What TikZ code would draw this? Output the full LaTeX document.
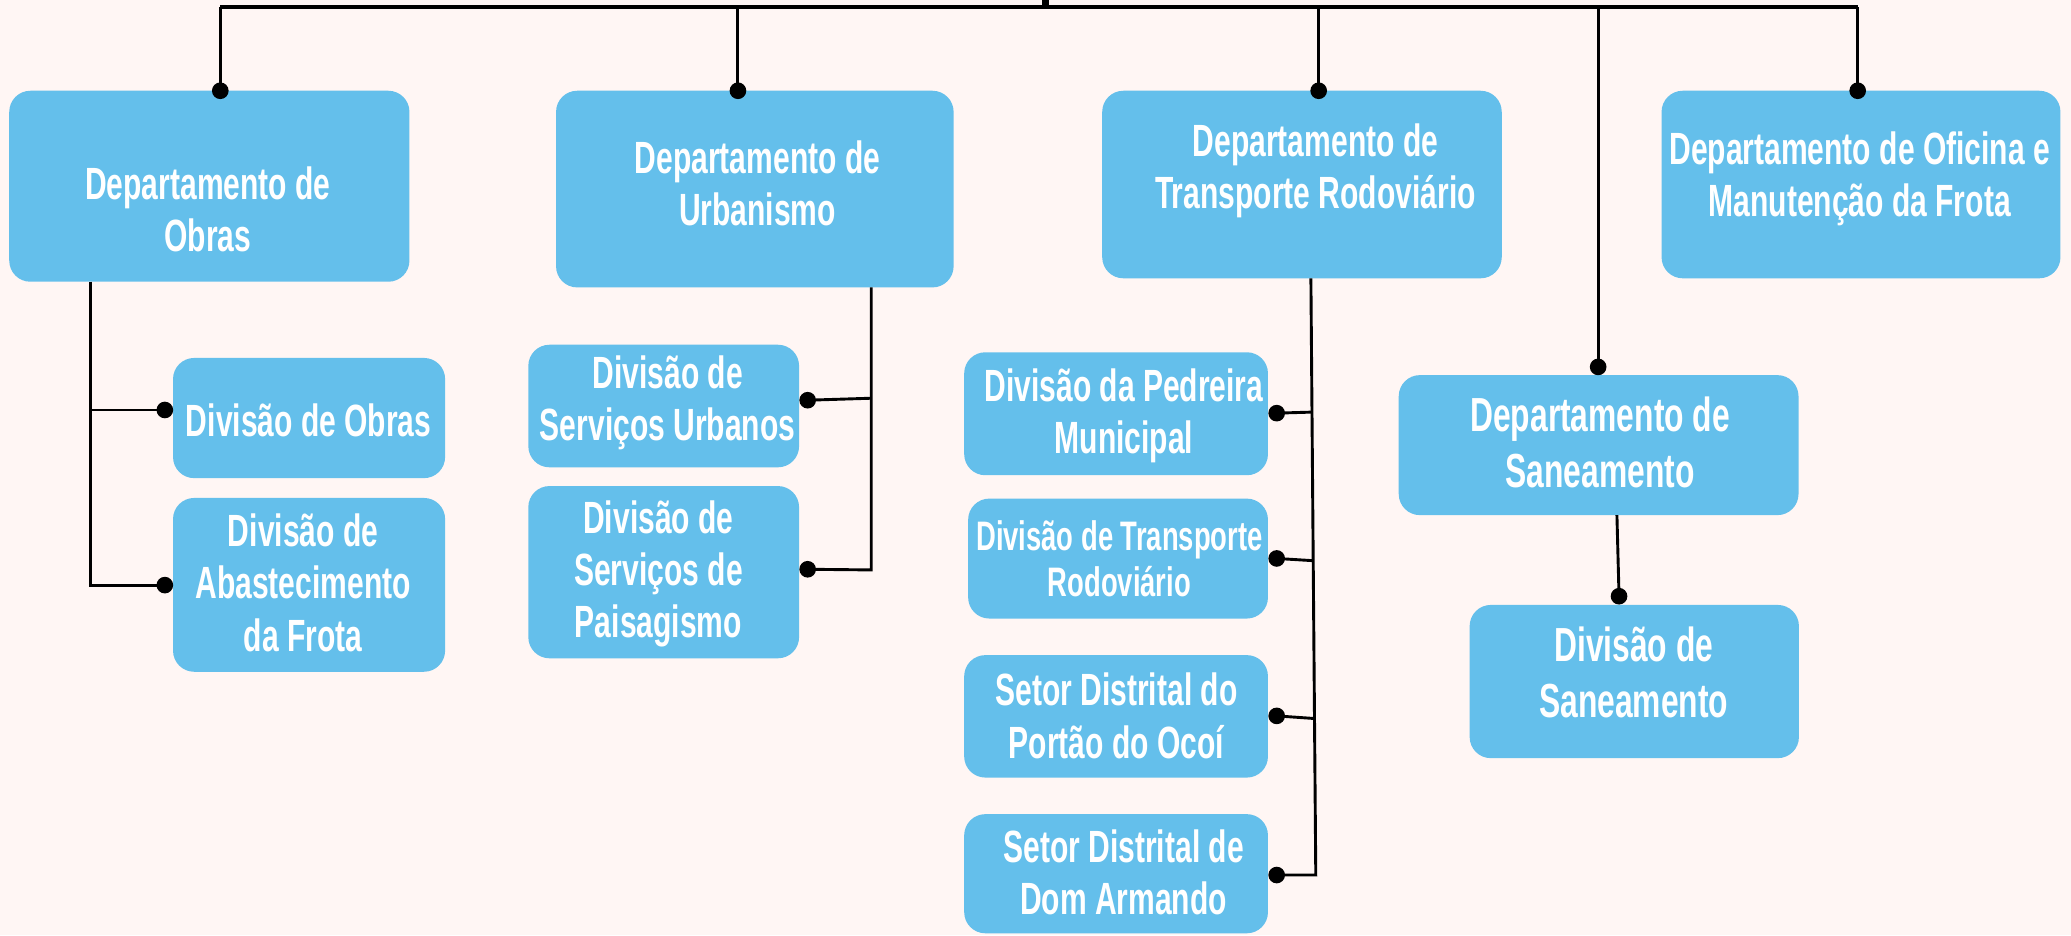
\documentclass[tikz,border=0pt]{standalone}
\usepackage{fontspec}
\newfontfamily\boxfont{Liberation Sans}[FakeStretch=0.665]
\definecolor{bg}{HTML}{FFF6F4}
\definecolor{boxblue}{HTML}{64BFEB}
\newcommand\toprl{\rule{0pt}{20pt}}
\newcommand\fixlines{\lineskiplimit=-100pt\lineskip=0pt}
\begin{document}
\begin{tikzpicture}[x=0.5pt,y=-0.5pt,
  box/.style={fill=boxblue, draw=none, rounded corners=8pt, inner sep=0pt, outer sep=0pt},
  lbl/.style={text=white, align=center, anchor=north, inner sep=0pt, outer sep=0pt,
    font=\boxfont\bfseries\fontsize{17.1}{19.75}\selectfont\fixlines},
  lblL/.style={lbl, font=\boxfont\bfseries\fontsize{18.1}{21}\selectfont\fixlines},
  lblS/.style={lbl, font=\boxfont\bfseries\fontsize{15.6}{17.7}\selectfont\fixlines},
  conn/.style={draw=black, line width=1.1pt},
  bar/.style={draw=black, line width=1.6pt},
  dot/.style={fill=black}]
\fill[bg] (0,0) rectangle (1568,708);
\useasboundingbox (0,0) rectangle (1568,708);

% boxes
\node[box, minimum width=151.5pt, minimum height=72.3pt] (bObras) at (158.5,141) {};
\node[box, minimum width=150.5pt, minimum height=74.45pt] (bUrb) at (571.5,143.15) {};
\node[box, minimum width=151.25pt, minimum height=71pt] (bTrans) at (985.75,139.7) {};
\node[box, minimum width=151pt, minimum height=71pt] (bOfic) at (1409,139.7) {};
\node[box, minimum width=151.35pt, minimum height=53pt] (bSanDept) at (1210.35,337) {};
\node[box, minimum width=124.65pt, minimum height=58pt] (bSanDiv) at (1237.35,516) {};
\node[box, minimum width=103pt, minimum height=45.5pt] (bDivObras) at (234,316.5) {};
\node[box, minimum width=103pt, minimum height=65.8pt] (bAbast) at (234,442.8) {};
\node[box, minimum width=102.5pt, minimum height=46.4pt] (bServUrb) at (502.5,307.4) {};
\node[box, minimum width=102.5pt, minimum height=65.2pt] (bPaisag) at (502.5,433.2) {};
\node[box, minimum width=115pt, minimum height=46.55pt] (bPedreira) at (845,313.25) {};
\node[box, minimum width=113.5pt, minimum height=45.4pt] (bTransDiv) at (846.5,422.9) {};
\node[box, minimum width=115pt, minimum height=46.35pt] (bPortao) at (845,542.35) {};
\node[box, minimum width=115pt, minimum height=45.1pt] (bDom) at (845,661.5) {};

% labels
\node[lbl] (tObras) at (157.4,110.7) {\toprl Departamento de\\Obras};
\node[lbl] (tUrb) at (573.5,91) {\toprl Departamento de\\Urbanismo};
\node[lbl] (tTrans) at (996,78.6) {\toprl Departamento de\\Transporte Rodoviário};
\node[lbl] (tOfic) at (1408,84.2) {\toprl Departamento de Oficina e\\Manutenção da Frota};
\node[lblL] (tSanDept) at (1211.5,287) {\toprl Departamento de\\Saneamento};
\node[lblL] (tSanDiv) at (1237,461) {\toprl Divisão de\\Saneamento};
\node[lbl] (tDivObras) at (233.7,290.6) {\toprl Divisão de Obras};
\node[lbl] (tAbast) at (229.5,374) {\toprl Divisão de\\Abastecimento\\da Frota};
\node[lbl] (tServUrb) at (505.5,254) {\toprl Divisão de\\Serviços Urbanos};
\node[lbl] (tPaisag) at (498.5,363.6) {\toprl Divisão de\\Serviços de\\Paisagismo};
\node[lbl] (tPedreira) at (851,263.7) {\toprl Divisão da Pedreira\\Municipal};
\node[lblS] (tTransDiv) at (847.5,376.5) {\toprl Divisão de Transporte\\Rodoviário};
\node[lbl] (tPortao) at (845.3,494.5) {\toprl Setor Distrital do\\Portão do Ocoí};
\node[lbl] (tDom) at (850.7,612.7) {\toprl Setor Distrital de\\Dom Armando};

% coordinates
\coordinate (topY) at (0,5.3);
\coordinate (root) at (791.5,-4);
\coordinate (dObras) at (166.8,68.7);
\coordinate (dUrb) at (558.7,68.7);
\coordinate (dTrans) at (998.4,68.7);
\coordinate (dOfic) at (1406.5,68.7);
\coordinate (dSan) at (1210,277.8);
\coordinate (dSanDiv) at (1225.8,451.4);
\coordinate (dDivObras) at (124.8,310.4);
\coordinate (dAbast) at (124.8,443);
\coordinate (dServUrb) at (611.5,303);
\coordinate (dPaisag) at (611.5,431);
\coordinate (dPedreira) at (966.6,312.8);
\coordinate (dTransDiv) at (966.6,422.8);
\coordinate (dPortao) at (966.6,542);
\coordinate (dDom) at (966.6,662.5);

\coordinate (oTop) at (68.7,213.3);
\coordinate (oJ1) at (68.7,310.4);
\coordinate (oBot) at (68.7,443);
\coordinate (uTop) at (659.6,217.6);
\coordinate (uJ1) at (659.6,301.5);
\coordinate (uBot) at (659.6,431.5);
\coordinate (trTop) at (992.5,210.7);
\coordinate (trJ1) at (993.3,312);
\coordinate (trJ2) at (994.25,424.5);
\coordinate (trJ3) at (995.2,544);
\coordinate (trBot) at (996.2,662.5);
\coordinate (sTop) at (1224.2,390);

% top bar
\draw[bar] (dObras |- topY) -- (dOfic |- topY);
\draw[black, line width=2.9pt] (root) -- (root |- topY);
\draw[conn] (dObras |- topY) -- (dObras);
\draw[conn] (dUrb |- topY) -- (dUrb);
\draw[conn] (dTrans |- topY) -- (dTrans);
\draw[conn] (dSan |- topY) -- (dSan);
\draw[conn] (dOfic |- topY) -- (dOfic);

% Obras
\draw[conn] (oTop) -- (oBot) -- (dAbast);
\draw[conn] (oJ1) -- (dDivObras);
% Urbanismo
\draw[conn] (uTop) -- (uBot) -- (dPaisag);
\draw[conn] (uJ1) -- (dServUrb);
% Transporte
\draw[conn] (trTop) -- (trBot) -- (dDom);
\draw[conn] (trJ1) -- (dPedreira);
\draw[conn] (trJ2) -- (dTransDiv);
\draw[conn] (trJ3) -- (dPortao);
% Saneamento
\draw[conn] (sTop) -- (dSanDiv);

% dots
\foreach \d in {dObras,dUrb,dTrans,dOfic,dSan,dSanDiv,dDivObras,dAbast,dServUrb,dPaisag,dPedreira,dTransDiv,dPortao,dDom}
  \fill[dot] (\d) circle[radius=3.15pt];
\end{tikzpicture}
\end{document}
